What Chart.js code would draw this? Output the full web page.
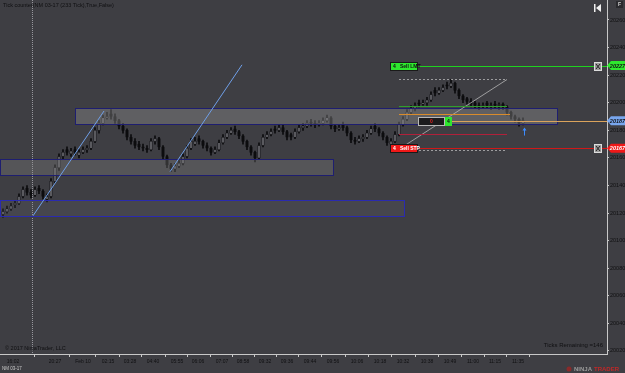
<!DOCTYPE html>
<html>
<head>
<meta charset="utf-8">
<script src="https://cdn.jsdelivr.net/npm/chart.js@4"></script>
<style>
  html, body { margin: 0; padding: 0; background: #3e3e43; }
  #wrap { width: 625px; height: 373px; }
</style>
</head>
<body>
<div id="wrap"><canvas id="chart" width="625" height="373"></canvas></div>
<script>
// NQ 03-17, 233 tick bars
const opens = [20119,20121,20123,20126,20127,20132,20138,20135,20133,20138,
  20136,20130,20132,20143,20153,20161,20166,20163,20166,20162,
  20164,20166,20167,20172,20180,20185,20189,20192,20190,20187,
  20183,20180,20175,20172,20170,20168,20167,20166,20172,20174,
  20168,20161,20155,20152,20154,20156,20161,20167,20170,20174,
  20172,20169,20167,20164,20166,20171,20175,20178,20181,20179,
  20176,20172,20168,20164,20160,20169,20175,20177,20181,20180,
  20182,20179,20177,20175,20179,20182,20183,20186,20185,20184,
  20185,20187,20189,20183,20181,20184,20182,20178,20173,20172,
  20174,20175,20178,20183,20181,20178,20175,20170,20172,20177,
  20184,20188,20193,20196,20200,20199,20200,20202,20209,20207,
  20209,20213,20212,20214,20209,20205,20203,20201,20200,20198,
  20197,20200,20197,20199,20198,20199,20197,20193,20190,20188,20185];
const highs = [20123,20125,20127,20129,20134,20139,20140,20137,20139,20140,
  20137,20134,20145,20155,20163,20166,20168,20167,20168,20166,
  20168,20169,20174,20182,20187,20191,20193,20195,20192,20188,
  20185,20181,20177,20174,20172,20170,20169,20174,20176,20175,
  20169,20162,20156,20156,20158,20163,20169,20174,20175,20176,
  20173,20171,20168,20168,20173,20177,20180,20182,20183,20180,
  20177,20173,20169,20165,20171,20177,20179,20181,20183,20184,
  20184,20180,20178,20181,20184,20185,20187,20188,20187,20187,
  20189,20191,20190,20184,20184,20186,20183,20179,20175,20176,
  20177,20180,20183,20185,20182,20179,20176,20174,20179,20186,
  20190,20195,20198,20200,20202,20202,20204,20208,20211,20211,
  20213,20215,20217,20215,20210,20206,20204,20203,20201,20200,
  20200,20201,20200,20201,20200,20200,20198,20194,20191,20189,20189];
const lows = [20117,20120,20122,20124,20126,20131,20133,20131,20132,20134,
  20130,20128,20131,20142,20151,20159,20162,20161,20162,20160,
  20163,20164,20166,20171,20178,20184,20188,20188,20185,20181,
  20178,20173,20170,20167,20166,20165,20164,20165,20170,20166,
  20159,20153,20150,20150,20153,20155,20160,20166,20169,20170,
  20167,20165,20162,20163,20165,20170,20174,20177,20177,20174,
  20170,20166,20162,20157,20159,20168,20174,20176,20178,20179,
  20177,20173,20173,20174,20178,20180,20182,20183,20182,20183,
  20184,20186,20181,20179,20180,20180,20176,20171,20170,20171,
  20172,20174,20177,20179,20176,20173,20169,20168,20171,20176,
  20183,20187,20192,20194,20197,20198,20198,20201,20205,20206,
  20208,20210,20211,20207,20203,20200,20199,20197,20196,20195,
  20196,20196,20195,20196,20195,20195,20191,20188,20186,20183,20184];
const closes = [20121,20123,20125,20127,20132,20137,20135,20133,20137,20136,
  20132,20132,20143,20153,20161,20164,20164,20165,20164,20164,
  20166,20167,20172,20180,20185,20189,20190,20190,20187,20183,
  20180,20175,20172,20169,20168,20167,20166,20172,20174,20168,
  20161,20155,20152,20154,20156,20161,20167,20172,20172,20172,
  20169,20167,20164,20166,20171,20175,20178,20180,20179,20176,
  20172,20168,20164,20160,20169,20175,20177,20179,20180,20182,
  20179,20175,20175,20179,20182,20183,20185,20185,20184,20185,
  20187,20189,20183,20181,20182,20182,20178,20173,20172,20174,
  20175,20178,20181,20181,20178,20175,20171,20172,20177,20184,
  20188,20193,20196,20198,20199,20200,20202,20206,20207,20209,
  20211,20212,20214,20209,20205,20202,20201,20199,20198,20197,
  20198,20198,20198,20198,20198,20197,20193,20190,20188,20185,20187];

// time axis labels, placed at the bar they belong to
const xTickBars = [2.5,13,20,26.25,31.75,37.5,43.5,48.75,54.75,60,65.5,71,76.75,82.5,88.5,94.25,100,106,111.75,117.5,123,128.75];
const xTickLabels = ['16:02','20:27','Feb 10','02:15','03:28','04:40','05:55','06:06','07:07','08:58','09:32',
  '09:36','09:44','09:56','10:06','10:18','10:32','10:38','10:49','11:00','11:15','11:35'];
const yTicks = [20020,20040,20060,20080,20100,20120,20140,20160,20180,20200,20220,20240,20260];

// drawing objects (bar index / price)
const zoneFrom = [18, -0.75, -0.75];
const zoneTo = [138.5, 82.5, 100.25];
const zoneHigh = [20196, 20159, 20129.5];
const zoneLow = [20184.5, 20147.5, 20118];
const trendFrom = [7.5, 41.75];
const trendTo = [25.25, 59.75];
const trendFromPrice = [20118, 20150];
const trendToPrice = [20194, 20227.5];
const markerBar = 7.25;
const rrFrom = 99, rrTo = 126;
const rrTop = 20217, rrBottom = 20165.5, rrDiagStart = 98.5;
const rrLevels = [20197.5, 20192, 20177.5];
const orderBar = 96.75;
const sellLimit = 20227, sellStop = 20167, lastPrice = 20187;
const lastLineFrom = 112.25;
const orderBoxFrom = 103.75;
const arrowBar = 130.25, arrowPrice = 20182;

const bg = '#3e3e43';
const txt = '#101012';
const fnt = '"Liberation Sans", Arial, sans-serif';

function hline(ctx, x0, x1, yy, col) {
    ctx.fillStyle = col;
    ctx.fillRect(Math.round(x0), Math.round(yy), Math.round(x1 - x0), 1);
}

function priceTag(ctx, yy, fill, color, label) {
    ctx.fillStyle = fill;
    ctx.beginPath();
    ctx.moveTo(607, yy);
    ctx.lineTo(611, yy - 4.5);
    ctx.lineTo(625, yy - 4.5);
    ctx.lineTo(625, yy + 4.5);
    ctx.lineTo(611, yy + 4.5);
    ctx.closePath();
    ctx.fill();
    ctx.fillStyle = color;
    ctx.font = 'italic bold 5.5px ' + fnt;
    ctx.textAlign = 'center';
    ctx.textBaseline = 'middle';
    ctx.fillText(label, 617.5, yy + 0.5);
}

function orderLine(ctx, x0, yy, col, labelFill, labelColor, text) {
    hline(ctx, x0 + 28, 594, yy, col);
    hline(ctx, 602, 607, yy, col);
    ctx.fillStyle = labelFill;
    ctx.fillRect(x0, yy - 4, 28, 9);
    ctx.strokeStyle = '#1a1a1a';
    ctx.lineWidth = 1;
    ctx.strokeRect(x0 + 0.5, yy - 3.5, 27, 8);
    ctx.fillStyle = labelColor;
    ctx.font = 'bold 5px ' + fnt;
    ctx.textAlign = 'left';
    ctx.textBaseline = 'middle';
    ctx.fillText('4   ' + text, x0 + 3, yy + 0.5);
    // close button
    ctx.fillStyle = '#9a9a9a';
    ctx.fillRect(594, yy - 4, 8, 9);
    ctx.strokeStyle = '#dcdcdc';
    ctx.strokeRect(594.5, yy - 3.5, 7, 8);
    ctx.strokeStyle = '#222';
    ctx.beginPath();
    ctx.moveTo(596, yy - 2); ctx.lineTo(600, yy + 3);
    ctx.moveTo(600, yy - 2); ctx.lineTo(596, yy + 3);
    ctx.stroke();
}

const drawings = {
    id: 'drawings',
    beforeDraw(chart) {
        const ctx = chart.ctx;
        ctx.save();
        ctx.fillStyle = bg;
        ctx.fillRect(0, 0, chart.width, chart.height);
        ctx.restore();
    },
    afterDatasetsDraw(chart) {
        const { ctx, scales: { x, y } } = chart;
        const area = chart.chartArea;
        ctx.save();

        // marker line
        const mx = Math.round(x.getPixelForValue(markerBar)) + 0.5;
        ctx.strokeStyle = 'rgba(190,190,195,0.7)';
        ctx.setLineDash([1, 1]);
        ctx.lineWidth = 1;
        ctx.beginPath();
        ctx.moveTo(mx, area.top);
        ctx.lineTo(mx, area.bottom);
        ctx.stroke();
        ctx.setLineDash([]);

        // zones
        const zoneFill = ['rgba(150,150,150,0.38)', 'rgba(140,140,140,0.3)', 'rgba(120,120,140,0.14)'];
        const zoneBorder = ['#1e1e70', '#1e1e70', '#2a2ab0'];
        zoneFrom.forEach((f, i) => {
            const x0 = Math.round(x.getPixelForValue(f));
            const x1 = Math.round(x.getPixelForValue(zoneTo[i]));
            const y0 = Math.round(y.getPixelForValue(zoneHigh[i]));
            const y1 = Math.round(y.getPixelForValue(zoneLow[i]));
            ctx.fillStyle = zoneFill[i];
            ctx.fillRect(x0, y0, x1 - x0, y1 - y0);
            ctx.strokeStyle = zoneBorder[i];
            ctx.lineWidth = 1;
            ctx.strokeRect(x0 + 0.5, y0 + 0.5, x1 - x0, y1 - y0);
        });

        // trend lines
        ctx.strokeStyle = '#6f9fe8';
        ctx.lineWidth = 1;
        trendFrom.forEach((f, i) => {
            ctx.beginPath();
            ctx.moveTo(x.getPixelForValue(f), y.getPixelForValue(trendFromPrice[i]));
            ctx.lineTo(x.getPixelForValue(trendTo[i]), y.getPixelForValue(trendToPrice[i]));
            ctx.stroke();
        });

        // risk/reward tool
        const rx0 = x.getPixelForValue(rrFrom), rx1 = x.getPixelForValue(rrTo);
        const ryT = Math.round(y.getPixelForValue(rrTop)) + 0.5;
        const ryB = Math.round(y.getPixelForValue(rrBottom)) + 0.5;
        ctx.strokeStyle = 'rgba(190,190,190,0.75)';
        ctx.setLineDash([2, 2]);
        ctx.beginPath();
        ctx.moveTo(rx0, ryT); ctx.lineTo(rx1, ryT);
        ctx.moveTo(rx0, ryB); ctx.lineTo(rx1, ryB);
        ctx.stroke();
        ctx.setLineDash([]);
        ctx.beginPath();
        ctx.moveTo(rx1, ryT);
        ctx.lineTo(x.getPixelForValue(rrDiagStart), ryB);
        ctx.stroke();
        const levelCols = ['#2f9e2f', '#d98c2b', '#b0203a'];
        rrLevels.forEach((p, i) => {
            hline(ctx, rx0, rx1 + (i === 1 ? 3 : 0), y.getPixelForValue(p), levelCols[i]);
        });

        // arrow under last bar
        const ax = Math.round(x.getPixelForValue(arrowBar)) + 0.5;
        const ay = y.getPixelForValue(arrowPrice);
        ctx.strokeStyle = '#3d8cff';
        ctx.fillStyle = '#3d8cff';
        ctx.beginPath();
        ctx.moveTo(ax, ay + 8); ctx.lineTo(ax, ay + 2);
        ctx.stroke();
        ctx.beginPath();
        ctx.moveTo(ax - 2, ay + 3); ctx.lineTo(ax, ay); ctx.lineTo(ax + 2, ay + 3);
        ctx.closePath();
        ctx.fill();
        ctx.restore();
    },
    afterDraw(chart) {
        const { ctx, scales: { x, y } } = chart;
        ctx.save();
        const ox = x.getPixelForValue(orderBar);

        // last price line and order box
        const ly = y.getPixelForValue(lastPrice);
        hline(ctx, x.getPixelForValue(lastLineFrom), 607, ly, '#dba35c');
        const bx = Math.round(x.getPixelForValue(orderBoxFrom));
        const by = Math.round(ly);
        ctx.fillStyle = '#1b1b1d';
        ctx.fillRect(bx, by - 4, 27, 9);
        ctx.strokeStyle = '#b8b8b8';
        ctx.lineWidth = 1;
        ctx.strokeRect(bx + 0.5, by - 3.5, 26, 8);
        ctx.fillStyle = '#e02020';
        ctx.font = 'bold 5px ' + fnt;
        ctx.textAlign = 'center';
        ctx.textBaseline = 'middle';
        ctx.fillText('0', bx + 13.5, by + 0.5);
        ctx.fillStyle = '#2ee82e';
        ctx.fillRect(bx + 27, by - 4, 7, 9);
        ctx.fillStyle = txt;
        ctx.fillText('4', bx + 30.5, by + 0.5);

        orderLine(ctx, Math.round(ox), Math.round(y.getPixelForValue(sellLimit)), '#1fd21f', '#2ee82e', txt, 'Sell LMT');
        orderLine(ctx, Math.round(ox), Math.round(y.getPixelForValue(sellStop)), '#d01818', '#f01818', '#ffffff', 'Sell STP');

        priceTag(ctx, y.getPixelForValue(sellLimit), '#2ee82e', txt, String(sellLimit));
        priceTag(ctx, ly, '#78a6ee', txt, String(lastPrice));
        priceTag(ctx, y.getPixelForValue(sellStop), '#f01818', '#ffffff', String(sellStop));

        // texts
        ctx.textBaseline = 'middle';
        ctx.textAlign = 'left';
        ctx.fillStyle = txt;
        ctx.font = '5.5px ' + fnt;
        ctx.fillText('Tick counter(NM 03-17 (233 Tick),True,False)', 3, 5);
        ctx.fillText('\u00a9 2017 NinjaTrader, LLC', 5, 348);
        ctx.textAlign = 'right';
        ctx.font = '6px ' + fnt;
        ctx.fillText('Ticks Remaining =146', 603, 345);
        ctx.textAlign = 'left';
        ctx.fillStyle = '#c8c8c8';
        ctx.font = '4.5px ' + fnt;
        ctx.fillText('NM 03-17', 2, 369);

        // NinjaTrader mark
        ctx.font = 'bold 6px ' + fnt;
        ctx.fillStyle = '#8a2a2a';
        ctx.beginPath();
        ctx.arc(569, 369, 2.5, 0, Math.PI * 2);
        ctx.fill();
        ctx.fillStyle = '#9a9a9a';
        ctx.fillText('NINJA', 574, 369);
        ctx.fillStyle = '#c02828';
        ctx.fillText('TRADER', 594, 369);

        // top right buttons
        ctx.fillStyle = '#f0f0f0';
        ctx.fillRect(594, 4, 1.5, 8);
        ctx.beginPath();
        ctx.moveTo(601, 4); ctx.lineTo(596, 8); ctx.lineTo(601, 12);
        ctx.closePath();
        ctx.fill();
        ctx.fillStyle = '#2a2a2e';
        ctx.fillRect(616, 1, 7, 7);
        ctx.fillStyle = '#d0d0d0';
        ctx.font = 'bold 5px ' + fnt;
        ctx.textAlign = 'center';
        ctx.fillText('F', 619.5, 4.5);
        ctx.restore();
    }
};

const idx = closes.map((_, i) => i);
const upCol = '#5a5a5f', downCol = '#0c0c0e';

function noPad(s) {
    s.paddingTop = 0; s.paddingBottom = 0; s.paddingLeft = 0; s.paddingRight = 0;
}

new Chart(document.getElementById('chart'), {
    type: 'bar',
    data: {
        datasets: [{
            label: 'wick',
            data: idx.map(i => ({ x: i, y: [lows[i], highs[i]] })),
            backgroundColor: downCol,
            barThickness: 1,
            grouped: false,
            order: 2
        }, {
            label: 'body',
            data: idx.map(i => ({ x: i, y: [opens[i], closes[i]] })),
            backgroundColor: idx.map(i => closes[i] >= opens[i] ? upCol : downCol),
            borderColor: downCol,
            borderWidth: 0.5,
            borderSkipped: false,
            barThickness: 2.6,
            minBarLength: 1,
            grouped: false,
            order: 1
        }]
    },
    options: {
        responsive: false,
        animation: false,
        layout: { padding: 0 },
        plugins: { legend: { display: false }, tooltip: { enabled: false } },
        scales: {
            x: {
                type: 'linear',
                offset: false,
                min: -0.75,
                max: 151,
                afterFit: s => { s.height = 19; noPad(s); },
                afterBuildTicks: s => { s.ticks = xTickBars.map(v => ({ value: v })); },
                grid: { drawOnChartArea: false, tickLength: 3, color: '#c8c8c8' },
                border: { color: '#c8c8c8' },
                ticks: {
                    autoSkip: false,
                    maxRotation: 0,
                    padding: 2,
                    color: txt,
                    font: { size: 5, family: fnt },
                    callback: (v, i) => xTickLabels[i]
                }
            },
            y: {
                position: 'right',
                min: 20017.8,
                max: 20274.5,
                afterFit: s => { s.width = 18; noPad(s); },
                afterBuildTicks: s => { s.ticks = yTicks.map(v => ({ value: v })); },
                grid: { drawOnChartArea: false, tickLength: 2, color: '#c8c8c8' },
                border: { color: '#c8c8c8' },
                ticks: {
                    padding: 1,
                    color: txt,
                    font: { size: 5.5, family: fnt },
                    callback: v => String(v)
                }
            }
        }
    },
    plugins: [drawings]
});
</script>
</body>
</html>
